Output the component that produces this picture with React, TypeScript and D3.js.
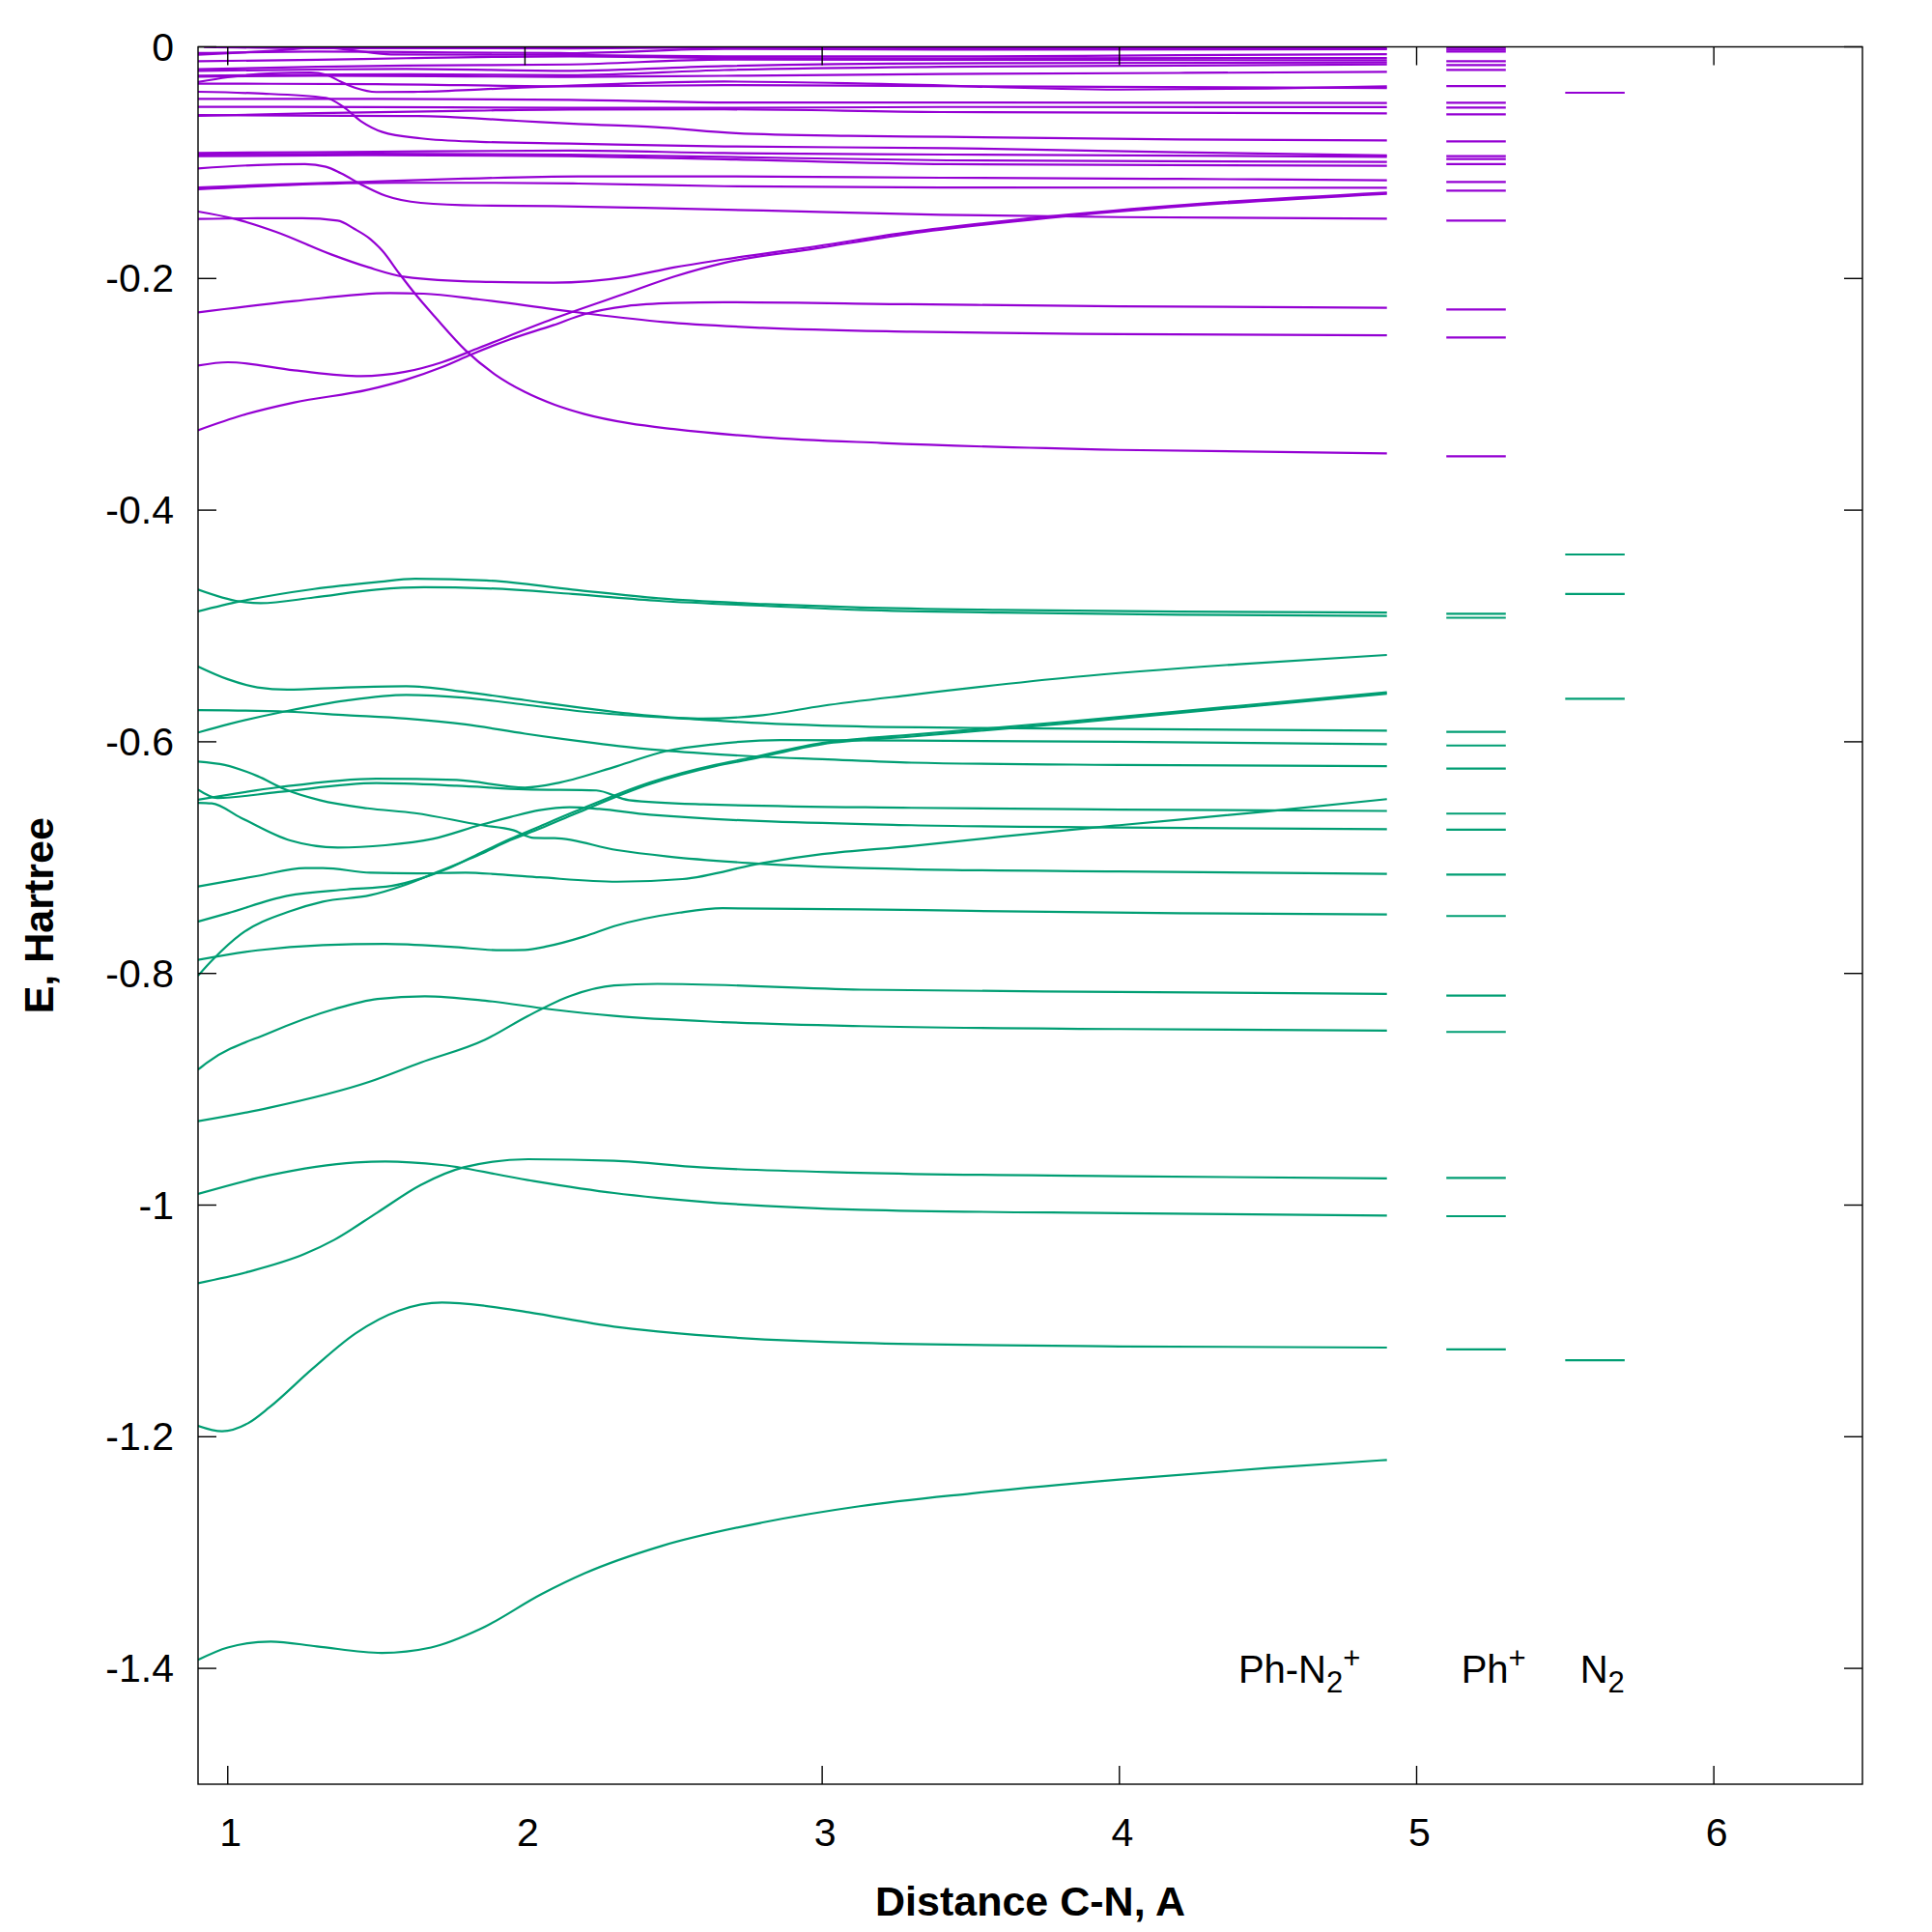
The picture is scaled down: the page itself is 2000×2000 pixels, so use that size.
import React, { useRef, useEffect } from "react";
import * as d3 from "d3";

type Pt = [number, number];

const xTicks = [1, 2, 3, 4, 5, 6];
const yTicks = [0, -0.2, -0.4, -0.6, -0.8, -1, -1.2, -1.4];

// occupied orbital energies of Ph-N2+ vs C-N distance (green)
const occupied: Pt[][] = [
  [[0.9,-0.4686],[1.04,-0.4789],[1.11,-0.4803],[1.29,-0.4754],[1.5,-0.4686],[1.66,-0.4666],[1.87,-0.4675],[2.16,-0.4724],[2.45,-0.4783],[2.81,-0.4827],[3.13,-0.4862],[3.6,-0.4885],[4.2,-0.4903],[4.9,-0.4914]],
  [[0.9,-0.4874],[1.04,-0.4789],[1.29,-0.4681],[1.5,-0.4622],[1.63,-0.4593],[1.87,-0.4607],[2.16,-0.4686],[2.45,-0.4762],[2.81,-0.4812],[3.13,-0.4841],[3.6,-0.4862],[4.2,-0.4876],[4.9,-0.4885]],
  [[0.9,-0.535],[1.0,-0.546],[1.1,-0.553],[1.2,-0.555],[1.4,-0.553],[1.6,-0.552],[1.8,-0.557],[2.0,-0.564],[2.2,-0.571],[2.4,-0.577],[2.6,-0.580],[2.8,-0.577],[3.0,-0.569],[3.3,-0.5595],[3.85,-0.544],[4.4,-0.533],[4.9,-0.525]],
  [[0.9,-0.5726],[1.0,-0.5728],[1.2,-0.574],[1.4,-0.577],[1.6,-0.580],[1.8,-0.585],[2.0,-0.593],[2.2,-0.600],[2.4,-0.606],[2.6,-0.610],[2.8,-0.613],[3.0,-0.615],[3.3,-0.618],[4.0,-0.620],[4.9,-0.6211]],
  [[0.9,-0.592],[1.0,-0.585],[1.2,-0.5734],[1.4,-0.5643],[1.6,-0.5595],[1.8,-0.562],[2.0,-0.568],[2.2,-0.574],[2.4,-0.578],[2.6,-0.581],[2.8,-0.584],[3.0,-0.586],[3.5,-0.588],[4.0,-0.589],[4.9,-0.5904]],
  [[0.9,-0.617],[0.99,-0.620],[1.1,-0.6296],[1.19,-0.6407],[1.31,-0.6504],[1.47,-0.6574],[1.63,-0.6616],[1.85,-0.6718],[1.96,-0.6763],[2.03,-0.683],[2.1,-0.6832],[2.31,-0.6935],[2.48,-0.699],[2.75,-0.7046],[3.3,-0.710],[4.0,-0.712],[4.9,-0.7141]],
  [[0.9,-0.6413],[0.965,-0.6485],[1.17,-0.6434],[1.5,-0.6357],[1.77,-0.6379],[2.0,-0.641],[2.24,-0.642],[2.35,-0.6504],[2.6,-0.654],[3.3,-0.657],[4.0,-0.6585],[4.9,-0.6597]],
  [[0.9,-0.650],[1.17,-0.6393],[1.5,-0.6318],[1.77,-0.633],[2.0,-0.6395],[2.12,-0.635],[2.31,-0.621],[2.475,-0.608],[2.64,-0.602],[2.86,-0.5985],[3.3,-0.599],[4.0,-0.600],[4.9,-0.6021]],
  [[0.9,-0.6527],[0.946,-0.6532],[1.045,-0.6657],[1.21,-0.6852],[1.37,-0.6913],[1.53,-0.6893],[1.69,-0.6838],[1.85,-0.6718],[1.95,-0.665],[2.05,-0.659],[2.15,-0.6565],[2.25,-0.658],[2.42,-0.663],[3.3,-0.672],[4.0,-0.674],[4.9,-0.6755]],
  [[0.9,-0.7249],[1.1,-0.7158],[1.26,-0.709],[1.32,-0.709],[1.48,-0.713],[1.64,-0.7136],[1.8,-0.713],[1.91,-0.7144],[2.05,-0.717],[2.31,-0.7208],[2.53,-0.7185],[2.8,-0.7046],[3.0,-0.697],[3.3,-0.690],[3.6,-0.682],[4.0,-0.672],[4.5,-0.660],[4.9,-0.6495]],
  [[0.9,-0.7552],[1.0,-0.748],[1.2,-0.733],[1.4,-0.7275],[1.55,-0.7245],[1.65,-0.718],[1.75,-0.7085],[1.85,-0.696],[1.95,-0.684],[2.05,-0.673],[2.17,-0.660],[2.42,-0.6351],[2.64,-0.6199],[2.75,-0.6143],[3.0,-0.601],[3.3,-0.594],[3.85,-0.582],[4.4,-0.569],[4.9,-0.5573]],
  [[0.9,-0.7883],[1.1,-0.780],[1.32,-0.7755],[1.53,-0.7745],[1.75,-0.777],[1.92,-0.780],[2.0,-0.7797],[2.07,-0.7768],[2.2,-0.768],[2.3,-0.7592],[2.52,-0.7475],[2.665,-0.7437],[3.13,-0.7446],[3.5,-0.746],[4.2,-0.748],[4.9,-0.749]],
  [[0.9,-0.802],[0.95,-0.788],[1.045,-0.766],[1.21,-0.7463],[1.32,-0.738],[1.48,-0.7324],[1.59,-0.7241],[1.7,-0.713],[1.85,-0.697],[1.95,-0.685],[2.05,-0.675],[2.17,-0.662],[2.42,-0.6365],[2.64,-0.621],[2.75,-0.6155],[3.0,-0.602],[3.3,-0.5955],[3.85,-0.5835],[4.4,-0.5703],[4.9,-0.5585]],
  [[0.9,-0.883],[0.93,-0.877],[1.14,-0.8513],[1.357,-0.8309],[1.504,-0.822],[1.663,-0.8197],[1.866,-0.8235],[2.084,-0.8309],[2.30,-0.8367],[2.665,-0.842],[3.13,-0.8455],[4.0,-0.848],[4.9,-0.8493]],
  [[0.9,-0.9276],[1.141,-0.9159],[1.475,-0.8937],[1.649,-0.877],[1.866,-0.8572],[2.01,-0.8367],[2.155,-0.8192],[2.30,-0.8104],[2.445,-0.809],[3.13,-0.814],[4.0,-0.816],[4.9,-0.8177]],
  [[0.9,-0.9904],[1.14,-0.9743],[1.43,-0.9632],[1.53,-0.9623],[1.72,-0.9654],[2.01,-0.9784],[2.30,-0.9896],[2.45,-0.9938],[3.13,-1.004],[4.0,-1.007],[4.9,-1.009]],
  [[0.9,-1.0674],[1.068,-1.0577],[1.257,-1.0424],[1.359,-1.0299],[1.504,-1.0063],[1.649,-0.9827],[1.794,-0.9674],[2.011,-0.9604],[2.30,-0.9618],[2.59,-0.9674],[3.126,-0.9721],[4.0,-0.975],[4.9,-0.977]],
  [[0.9,-1.1906],[0.981,-1.1953],[1.068,-1.1884],[1.141,-1.1745],[1.286,-1.1411],[1.431,-1.1106],[1.576,-1.0911],[1.721,-1.0842],[1.866,-1.087],[2.011,-1.0925],[2.30,-1.105],[2.447,-1.1092],[3.126,-1.119],[4.0,-1.122],[4.9,-1.123]],
  [[0.9,-1.3927],[1.0,-1.382],[1.145,-1.3768],[1.3,-1.381],[1.518,-1.3866],[1.684,-1.382],[1.85,-1.366],[2.057,-1.3357],[2.2,-1.318],[2.46,-1.2943],[2.8,-1.274],[3.126,-1.260],[3.5,-1.249],[4.0,-1.237],[4.5,-1.227],[4.9,-1.220]],
];

// virtual orbital energies (violet)
const virtual: Pt[][] = [
  [[0.92,-0.0001],[1.3,-0.0012],[2.15,-0.0013],[2.67,-0.0005],[3.4,-0.0013],[4.9,-0.0013]],
  [[0.9,-0.0054],[1.3,-0.0040],[1.6,-0.0045],[2.15,-0.0054],[2.67,-0.0018],[3.4,-0.0025],[4.9,-0.0021]],
  [[0.9,-0.0068],[1.15,-0.0035],[1.32,-0.0006],[1.42,-0.0030],[1.55,-0.0065],[2.15,-0.0070],[2.67,-0.0082],[3.4,-0.0083],[4.2,-0.0072],[4.9,-0.0063]],
  [[0.9,-0.0124],[1.3,-0.0112],[1.6,-0.0098],[2.15,-0.0082],[2.67,-0.0096],[3.4,-0.0100],[4.9,-0.0096]],
  [[0.9,-0.0193],[1.3,-0.0172],[1.6,-0.0162],[2.15,-0.0152],[2.67,-0.0110],[3.4,-0.0112],[4.9,-0.0116]],
  [[0.9,-0.0207],[1.3,-0.0196],[1.6,-0.0190],[2.15,-0.0207],[2.67,-0.0166],[3.4,-0.0142],[4.9,-0.0135]],
  [[0.9,-0.0249],[1.3,-0.0240],[1.6,-0.0236],[2.15,-0.0245],[2.67,-0.0200],[3.4,-0.0172],[4.9,-0.0152]],
  [[0.9,-0.0257],[1.3,-0.0250],[1.8,-0.0255],[2.15,-0.0260],[2.67,-0.0250],[3.4,-0.0235],[4.2,-0.0225],[4.9,-0.0216]],
  [[0.9,-0.0304],[1.0,-0.0263],[1.15,-0.0229],[1.28,-0.0221],[1.33,-0.0240],[1.38,-0.0300],[1.43,-0.0355],[1.5,-0.0390],[1.64,-0.0388],[1.86,-0.0366],[2.18,-0.0332],[2.67,-0.0300],[3.2,-0.0320],[4.0,-0.0369],[4.5,-0.0360],[4.9,-0.0341]],
  [[0.9,-0.0318],[1.5,-0.0322],[2.15,-0.0341],[2.67,-0.0330],[3.4,-0.0340],[4.9,-0.0355]],
  [[0.9,-0.0449],[1.5,-0.0450],[2.15,-0.0457],[2.67,-0.0480],[3.4,-0.0480],[4.9,-0.0485]],
  [[0.9,-0.0518],[1.5,-0.0520],[2.15,-0.0527],[2.67,-0.0527],[3.4,-0.0519],[4.9,-0.0521]],
  [[0.9,-0.0596],[1.3,-0.0572],[1.8,-0.0552],[2.15,-0.0541],[2.67,-0.0540],[3.4,-0.0563],[4.9,-0.0574]],
  [[0.9,-0.0589],[1.4,-0.0596],[1.64,-0.0597],[1.97,-0.0638],[2.18,-0.0666],[2.44,-0.0693],[2.71,-0.0745],[3.09,-0.0769],[3.42,-0.0777],[4.2,-0.0800],[4.9,-0.0808]],
  [[0.9,-0.0388],[1.1,-0.0402],[1.33,-0.0440],[1.39,-0.0520],[1.45,-0.0645],[1.52,-0.0735],[1.65,-0.0790],[1.85,-0.0820],[2.15,-0.0835],[2.67,-0.0860],[3.42,-0.0874],[4.2,-0.0910],[4.9,-0.0938]],
  [[0.9,-0.0916],[1.5,-0.0905],[2.15,-0.0895],[2.67,-0.0917],[3.42,-0.0930],[4.9,-0.0949]],
  [[0.9,-0.0930],[1.5,-0.0922],[2.15,-0.0930],[2.67,-0.0950],[3.42,-0.0980],[4.9,-0.0994]],
  [[0.9,-0.0944],[1.5,-0.0935],[2.15,-0.0944],[2.67,-0.0970],[3.42,-0.1013],[4.9,-0.1027]],
  [[0.9,-0.105],[1.1,-0.102],[1.26,-0.1013],[1.33,-0.1035],[1.38,-0.109],[1.45,-0.119],[1.53,-0.1285],[1.65,-0.1347],[1.846,-0.137],[2.095,-0.1375],[2.4,-0.139],[2.8,-0.1413],[3.4,-0.145],[4.0,-0.147],[4.9,-0.1483]],
  [[0.9,-0.1214],[1.1,-0.1194],[1.45,-0.1166],[1.8,-0.1138],[2.18,-0.1119],[2.67,-0.1119],[3.4,-0.113],[4.2,-0.114],[4.9,-0.1152]],
  [[0.9,-0.123],[1.2,-0.1194],[1.56,-0.1174],[1.9,-0.1174],[2.18,-0.118],[2.67,-0.1203],[3.4,-0.1215],[4.9,-0.1216]],
  [[0.9,-0.1486],[1.1,-0.148],[1.25,-0.148],[1.37,-0.150],[1.425,-0.157],[1.48,-0.166],[1.52,-0.176],[1.578,-0.196],[1.628,-0.2125],[1.7,-0.234],[1.8,-0.262],[1.9,-0.283],[2.0,-0.298],[2.1,-0.309],[2.2,-0.317],[2.35,-0.325],[2.5,-0.330],[2.8,-0.337],[3.2,-0.342],[4.0,-0.348],[4.9,-0.351]],
  [[0.9,-0.1422],[1.025,-0.1486],[1.162,-0.1597],[1.348,-0.1792],[1.473,-0.1903],[1.597,-0.1986],[1.846,-0.2028],[2.095,-0.2036],[2.343,-0.1986],[2.5,-0.1905],[2.67,-0.1835],[2.98,-0.1722],[3.29,-0.1600],[3.76,-0.1465],[4.23,-0.1362],[4.9,-0.1258]],
  [[0.9,-0.2751],[1.0,-0.2723],[1.224,-0.2793],[1.448,-0.2843],[1.597,-0.2806],[1.721,-0.2723],[1.846,-0.2598],[2.095,-0.2348],[2.343,-0.2125],[2.5,-0.1985],[2.67,-0.1865],[2.98,-0.1740],[3.29,-0.1615],[3.76,-0.1478],[4.23,-0.1374],[4.9,-0.1268]],
  [[0.9,-0.331],[1.05,-0.318],[1.224,-0.307],[1.473,-0.296],[1.597,-0.2876],[1.721,-0.2765],[1.821,-0.2654],[1.95,-0.2525],[2.095,-0.2403],[2.2,-0.2308],[2.343,-0.2238],[2.5,-0.2212],[2.67,-0.2205],[3.29,-0.2222],[4.0,-0.224],[4.9,-0.2253]],
  [[0.9,-0.2292],[1.224,-0.2195],[1.546,-0.2126],[1.659,-0.2131],[1.846,-0.2181],[2.095,-0.2265],[2.22,-0.2306],[2.468,-0.2376],[2.8,-0.2426],[3.3,-0.246],[4.0,-0.248],[4.9,-0.249]],
];

// separated fragments: Ph+ and N2 levels
const phOccupied = [-0.4894, -0.4929, -0.5915, -0.6032, -0.6231, -0.662, -0.6758, -0.7147, -0.7504, -0.8192, -0.8505, -0.9766, -1.0096, -1.1245];
const phVirtual = [-0.001, -0.0025, -0.004, -0.0124, -0.0157, -0.0199, -0.0338, -0.0482, -0.0524, -0.0582, -0.0816, -0.0944, -0.0969, -0.1013, -0.1166, -0.1241, -0.15, -0.2267, -0.2509, -0.3535];
const n2Occupied = [-0.4383, -0.4723, -0.5628, -1.134];
const n2Virtual = [-0.0396];

const phRange: [number, number] = [5.1, 5.3];
const n2Range: [number, number] = [5.5, 5.7];

const VIOLET = "#9400d3";
const GREEN = "#009e73";

const App = () => {
  const ref = useRef<SVGSVGElement>(null);

  useEffect(() => {
    const svg = d3.select(ref.current);
    svg.selectAll("*").remove();

    const left = 205, right = 1928, top = 48.5, bottom = 1847;
    const font = "'Liberation Sans', Arial, Helvetica, sans-serif";

    const x = d3.scaleLinear().domain([0.9, 6.5]).range([left, right]);
    const y = d3.scaleLinear().domain([-1.5, 0]).range([bottom, top]);

    svg.append("rect").attr("width", 2000).attr("height", 2000).attr("fill", "#fff");

    svg.append("defs").append("clipPath").attr("id", "plotclip")
      .append("rect").attr("x", left).attr("y", top)
      .attr("width", right - left).attr("height", bottom - top);

    const plot = svg.append("g").attr("clip-path", "url(#plotclip)");

    const line = d3.line<Pt>()
      .x(d => x(d[0]))
      .y(d => y(d[1]))
      .curve(d3.curveMonotoneX);

    const drawCurves = (curves: Pt[][], color: string) => {
      plot.append("g")
        .selectAll("path")
        .data(curves)
        .enter()
        .append("path")
        .attr("d", d => line(d))
        .attr("fill", "none")
        .attr("stroke", color)
        .attr("stroke-width", 2.2);
    };
    drawCurves(occupied, GREEN);
    drawCurves(virtual, VIOLET);

    const drawLevels = (levels: number[], range: [number, number], color: string) => {
      plot.append("g")
        .selectAll("line")
        .data(levels)
        .enter()
        .append("line")
        .attr("x1", x(range[0]))
        .attr("x2", x(range[1]))
        .attr("y1", d => y(d))
        .attr("y2", d => y(d))
        .attr("stroke", color)
        .attr("stroke-width", 2.2);
    };
    drawLevels(phOccupied, phRange, GREEN);
    drawLevels(phVirtual, phRange, VIOLET);
    drawLevels(n2Occupied, n2Range, GREEN);
    drawLevels(n2Virtual, n2Range, VIOLET);

    // frame
    const axes = svg.append("g").attr("stroke", "#000").attr("stroke-width", 1.4);
    axes.append("rect")
      .attr("x", left).attr("y", top)
      .attr("width", right - left).attr("height", bottom - top)
      .attr("fill", "none");

    const tickLen = 19;
    yTicks.forEach(v => {
      axes.append("line").attr("x1", left).attr("x2", left + tickLen).attr("y1", y(v)).attr("y2", y(v));
      axes.append("line").attr("x1", right - tickLen).attr("x2", right).attr("y1", y(v)).attr("y2", y(v));
    });
    xTicks.forEach(v => {
      if (v !== 2) {
        axes.append("line").attr("x1", x(v)).attr("x2", x(v)).attr("y1", bottom).attr("y2", bottom - tickLen);
      }
      axes.append("line").attr("x1", x(v)).attr("x2", x(v)).attr("y1", top).attr("y2", top + tickLen);
    });

    const labels = svg.append("g").attr("font-family", font).attr("font-size", 41).attr("fill", "#000");
    yTicks.forEach(v => {
      labels.append("text")
        .attr("x", left - 25)
        .attr("y", y(v) + 14)
        .attr("text-anchor", "end")
        .text(String(+v.toFixed(1)));
    });
    xTicks.forEach(v => {
      labels.append("text")
        .attr("x", x(v) + 3)
        .attr("y", 1911)
        .attr("text-anchor", "middle")
        .text(String(v));
    });

    svg.append("text")
      .attr("x", (left + right) / 2)
      .attr("y", 1983)
      .attr("text-anchor", "middle")
      .attr("font-family", font)
      .attr("font-weight", "bold")
      .attr("font-size", 43)
      .text("Distance C-N, A");

    svg.append("text")
      .attr("transform", `translate(55,${(top + bottom) / 2}) rotate(-90)`)
      .attr("text-anchor", "middle")
      .attr("font-family", font)
      .attr("font-weight", "bold")
      .attr("font-size", 43)
      .text("E, Hartree");

    // fragment labels
    const lab = (xv: number, parts: [string, string][]) => {
      const t = svg.append("text")
        .attr("x", x(xv))
        .attr("y", y(-1.4) + 15)
        .attr("font-family", font)
        .attr("font-size", 40);
      let shift = 0;
      parts.forEach(([s, kind]) => {
        const target = kind === "sub" ? 10 : kind === "sup" ? -15 : 0;
        t.append("tspan")
          .attr("dy", target - shift)
          .attr("font-size", kind === "n" ? 40 : 31)
          .text(s);
        shift = target;
      });
    };
    lab(4.4, [["Ph-N", "n"], ["2", "sub"], ["+", "sup"]]);
    lab(5.15, [["Ph", "n"], ["+", "sup"]]);
    lab(5.55, [["N", "n"], ["2", "sub"]]);
  }, []);

  return (
    <svg
      ref={ref}
      width={2000}
      height={2000}
      style={{ position: "absolute", left: 0, top: 0, display: "block" }}
    />
  );
};

export default App;
